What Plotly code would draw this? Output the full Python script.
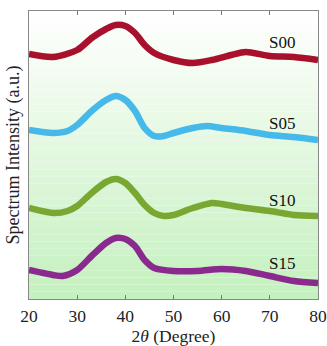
import plotly.graph_objects as go

# 2-theta positions (degrees) and read-off intensities (arbitrary units, offset stacked)
x_s00 = [20, 25, 30, 33, 36, 38, 40, 42, 44, 46, 50, 54, 58, 62, 65, 70, 75, 80]
y_s00 = [245, 242, 249, 261, 270, 274, 273, 266, 254, 246, 239, 236, 239, 244, 247, 243, 242, 239]

x_s05 = [20, 25, 28, 30, 33, 36, 38, 40, 42, 44, 46, 48, 50, 54, 57, 60, 65, 70, 75, 80]
y_s05 = [169, 166, 168, 174, 188, 199, 203, 199, 188, 171, 163, 163, 166, 171, 173, 171, 168, 164, 162, 159]

x_s10 = [20, 25, 28, 30, 33, 36, 38, 40, 42, 44, 46, 48, 50, 54, 58, 60, 65, 70, 75, 80]
y_s10 = [91, 86, 88, 93, 106, 117, 120, 116, 106, 94, 86, 83, 84, 91, 96, 95, 91, 88, 84, 83]

x_s15 = [20, 25, 27, 30, 33, 36, 38, 40, 42, 44, 46, 50, 55, 60, 65, 70, 75, 80]
y_s15 = [29, 24, 23, 29, 43, 56, 61, 60, 53, 39, 31, 28, 28, 30, 28, 23, 18, 16]

series_names = ["S00", "S05", "S10", "S15"]
label_x = [72.6, 72.6, 72.6, 72.6]
label_y = [257, 176, 99, 36]
x_ticks = [20, 30, 40, 50, 60, 70, 80]

colors = ["#a8102c", "#45b9ea", "#78a832", "#8a2a8e"]
xs = [x_s00, x_s05, x_s10, x_s15]
ys = [y_s00, y_s05, y_s10, y_s15]

fig = go.Figure()
for name, x, y, c in zip(series_names, xs, ys, colors):
    fig.add_trace(go.Scatter(x=x, y=y, mode="lines", name=name,
                             line=dict(color=c, width=6.5, shape="spline", smoothing=0.8),
                             showlegend=False))

for name, lx, ly in zip(series_names, label_x, label_y):
    fig.add_annotation(x=lx, y=ly, text=name, showarrow=False,
                       font=dict(family="Liberation Serif", size=17, color="#111"))

# vertical gradient background (white at top -> light green at bottom)
n = 40
top = (255, 255, 255)
bot = (196, 240, 190)
for i in range(n):
    t = (i + 0.5) / n
    r = round(bot[0] + (top[0] - bot[0]) * t)
    g = round(bot[1] + (top[1] - bot[1]) * t)
    b = round(bot[2] + (top[2] - bot[2]) * t)
    fig.add_shape(type="rect", xref="paper", yref="paper",
                  x0=0, x1=1, y0=i / n, y1=(i + 1) / n,
                  fillcolor=f"rgb({r},{g},{b})", line=dict(width=0), layer="below")

fig.update_layout(
    width=327, height=346,
    margin=dict(l=29, r=9, t=11, b=47, autoexpand=False),
    paper_bgcolor="white", plot_bgcolor="rgba(0,0,0,0)",
    font=dict(family="Liberation Serif", size=17, color="#222"),
)
fig.update_xaxes(range=[20, 80], tickvals=x_ticks, ticks="inside", ticklen=4,
                 tickcolor="#777", showgrid=False, zeroline=False, automargin=False,
                 showline=True, linecolor="#888", linewidth=1, mirror="allticks",
                 ticklabelstandoff=1,
                 title=dict(text="2<i>θ</i> (Degree)", standoff=2,
                            font=dict(family="Liberation Serif", size=17.5)),
                 tickfont=dict(family="Liberation Serif", size=17.5))
fig.update_yaxes(range=[0, 288], showticklabels=False, ticks="", showgrid=False,
                 zeroline=False, showline=True, linecolor="#888", linewidth=1, mirror=True,
                 automargin=False,
                 title=dict(text="Spectrum Intensity (a.u.)", standoff=3,
                            font=dict(family="Liberation Serif", size=18)))

fig.write_html("out.html", config={"displayModeBar": False},
               post_script="document.body.style.margin='0';")
